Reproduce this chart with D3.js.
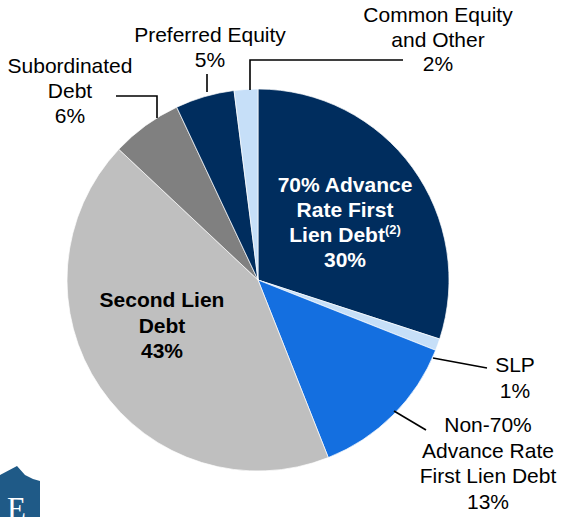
<!DOCTYPE html>
<html><head><meta charset="utf-8">
<script src="https://cdn.jsdelivr.net/npm/d3@7"></script>
<style>
html,body{margin:0;padding:0;background:#fff;}
svg{display:block;}
text{font-family:"Liberation Sans",Arial,sans-serif;}
text.logo{font-family:"Liberation Serif","DejaVu Serif",serif;}
</style></head>
<body><svg id="c" width="566" height="517"></svg>
<script>
// ---- data ----
const categories = ["70% Advance Rate First Lien Debt", "SLP", "Non-70% Advance Rate First Lien Debt", "Second Lien Debt", "Subordinated Debt", "Preferred Equity", "Common Equity and Other"];
const values = [30, 1, 13, 43, 6, 5, 2];
const valueLabels = ["30%", "1%", "13%", "43%", "6%", "5%", "2%"];
const colors = ["#002D5E", "#C6DFF8", "#146FE0", "#BFBFBF", "#808080", "#002D5E", "#C6DFF8"];

// ---- layout ----
const cx = 258, cy = 280, R = 191;
const svg = d3.select("#c");

const pie = d3.pie().sort(null).value(d => d.v).startAngle(0).endAngle(2 * Math.PI);
const arc = d3.arc().innerRadius(0).outerRadius(R);
const data = categories.map((c, i) => ({c, v: values[i], col: colors[i], lab: valueLabels[i]}));

const g = svg.append("g").attr("transform", `translate(${cx},${cy})`);
g.selectAll("path").data(pie(data)).join("path")
  .attr("d", arc)
  .attr("fill", d => d.data.col)
  .attr("stroke", "#fff").attr("stroke-width", 0.7);

// leader lines
const leaders = [
  [[250, 90], [250, 60], [403, 60]],
  [[207, 92], [207, 74]],
  [[157, 118], [157, 96], [116, 96]],
  [[433, 358], [487, 368]],
  [[394, 411], [426, 430]]
];
svg.selectAll("polyline.l").data(leaders).join("polyline")
  .attr("points", d => d.map(p => p.join(",")).join(" "))
  .attr("fill", "none").attr("stroke", "#000").attr("stroke-width", 1.6);

// labels: lines of text
const fs = 21;
function label(x, y, lines, opts) {
  const t = svg.append("text").attr("text-anchor", "middle")
    .attr("font-size", fs).attr("fill", opts.fill || "#000")
    .attr("font-weight", opts.bold ? "bold" : "normal");
  lines.forEach((ln, i) => {
    const ts = t.append("tspan").attr("x", x).attr("y", y + i * opts.lh);
    if (typeof ln === "string") ts.text(ln);
    else {
      ts.text(ln[0]);
      t.append("tspan").attr("font-size", 13).attr("dy", -8).text(ln[1]);
    }
  });
}
label(438, 22, ["Common Equity", "and Other", valueLabels[6]], {lh: 24.5});
label(210, 42, ["Preferred Equity", valueLabels[5]], {lh: 24.5});
label(70, 73, ["Subordinated", "Debt", valueLabels[4]], {lh: 25});
label(162, 307, ["Second Lien", "Debt", valueLabels[3]], {lh: 25.5, bold: true});
label(345, 192, ["70% Advance", "Rate First", ["Lien Debt", "(2)"], valueLabels[0]], {lh: 25, bold: true, fill: "#fff"});
label(515, 372, ["SLP", valueLabels[1]], {lh: 25.5});
label(488, 432, ["Non-70%", "Advance Rate", "First Lien Debt", valueLabels[2]], {lh: 25.5});

// logo
svg.append("polygon")
  .attr("points", "0,475 17,466 25,475 33,479 40,481 40,517 0,517")
  .attr("fill", "#1F5A87");
svg.append("text").attr("class", "logo").attr("x", 7).attr("y", 519)
  .attr("font-size", 31)
  .attr("fill", "#fff").text("E");
</script></body></html>
